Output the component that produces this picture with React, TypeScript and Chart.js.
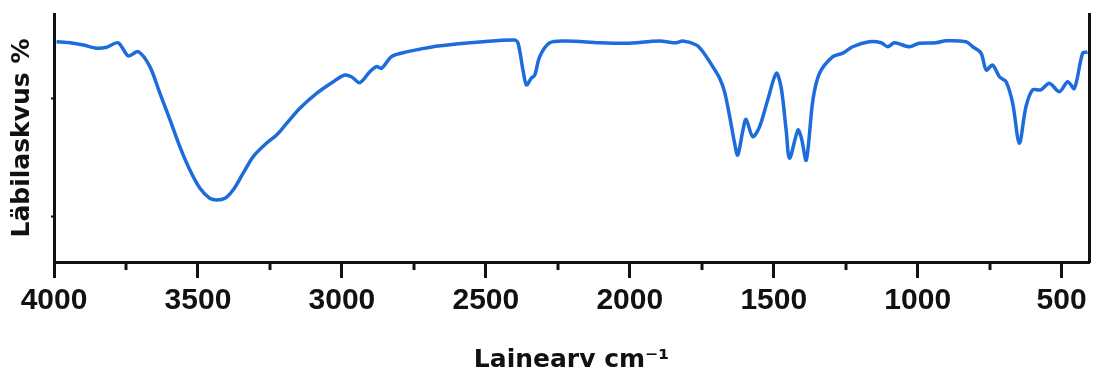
import { useEffect, useRef } from 'react';
import { Chart, registerables } from 'chart.js';

Chart.register(...registerables);

// Wavenumber (cm^-1) and transmittance (%)
const WAVENUMBER = [
  3991, 3944, 3898, 3852, 3817, 3777, 3742, 3707, 3667, 3632, 3597, 3563, 3528, 3493, 3459, 3435,
  3406, 3378, 3343, 3308, 3262, 3227, 3192, 3146, 3088, 3030, 2990, 2967, 2938, 2903, 2880, 2862,
  2828, 2788, 2730, 2666, 2510, 2400, 2388, 2371, 2359, 2342, 2330, 2313, 2278, 2220, 2105, 2012,
  1897, 1839, 1816, 1769, 1746, 1712, 1688, 1671, 1653, 1636, 1625, 1607, 1596, 1573, 1549, 1521,
  1491, 1474, 1457, 1445, 1416, 1404, 1387, 1364, 1341, 1295, 1260, 1226, 1168, 1127, 1104, 1081,
  1029, 994, 936, 901, 832, 809, 780, 762, 740, 716, 693, 670, 647, 624, 601, 572, 543, 508, 479,
  456, 427, 410,
];
const TRANSMITTANCE = [
  88.8, 88.4, 87.5, 86.2, 86.6, 88.4, 83.1, 84.8, 78.8, 68.0, 57.3, 46.5, 37.1, 29.7, 25.7, 25.0,
  25.7, 29.0, 35.8, 42.5, 47.9, 51.2, 55.9, 62.0, 68.0, 72.7, 75.4, 74.7, 72.3, 76.7, 78.8, 78.1,
  82.8, 84.4, 85.8, 87.1, 88.8, 89.5, 88.2, 77.4, 71.4, 74.1, 75.4, 82.8, 88.4, 89.1, 88.4, 88.2,
  89.1, 88.4, 89.1, 87.5, 84.8, 78.8, 74.1, 68.7, 58.6, 47.9, 43.1, 53.2, 57.5, 50.5, 54.6, 65.3,
  76.1, 70.2, 53.2, 41.8, 53.2, 50.0, 41.1, 65.3, 76.1, 82.8, 84.2, 86.8, 88.8, 88.4, 86.8, 88.4,
  86.8, 88.2, 88.4, 89.2, 88.8, 86.8, 84.2, 77.4, 79.4, 74.7, 72.7, 64.0, 47.9, 62.6, 69.4, 69.4,
  72.1, 68.7, 72.7, 70.0, 84.2, 84.6,
];

const X_MAJOR_TICKS = [4000, 3500, 3000, 2500, 2000, 1500, 1000, 500];
const X_MINOR_TICKS = [3750, 3250, 2750, 2250, 1750, 1250, 750];
const Y_TICKS = [18.5, 66];
const X_TITLE = 'Lainearv cm⁻¹';
const Y_TITLE = 'Läbilaskvus %';

const AXIS_COLOR = '#111111';
const LINE_COLOR = '#1c6cdc';

const minorTicksPlugin = {
  id: 'minorTicks',
  afterDraw(chart: any) {
    const xs = chart.scales.x;
    const ctx = chart.ctx;
    const bottom = chart.chartArea.bottom;
    ctx.save();
    ctx.strokeStyle = AXIS_COLOR;
    ctx.lineWidth = 3;
    X_MINOR_TICKS.forEach((v) => {
      const px = Math.round(xs.getPixelForValue(v));
      ctx.beginPath();
      ctx.moveTo(px, bottom);
      ctx.lineTo(px, bottom + 8);
      ctx.stroke();
    });
    ctx.restore();
  },
};

export default function App() {
  const canvasRef = useRef<HTMLCanvasElement | null>(null);

  useEffect(() => {
    if (!canvasRef.current) return;
    const chart = new Chart(canvasRef.current, {
      type: 'line',
      data: {
        datasets: [
          {
            data: WAVENUMBER.map((x, i) => ({ x, y: TRANSMITTANCE[i] })),
            borderColor: LINE_COLOR,
            borderWidth: 3.5,
            pointRadius: 0,
            tension: 0.3,
            fill: false,
          },
        ],
      },
      options: {
        responsive: false,
        animation: false,
        events: [],
        layout: { padding: { top: 14, left: 0, right: 0, bottom: 0 } },
        plugins: { legend: { display: false }, tooltip: { enabled: false } },
        scales: {
          x: {
            type: 'linear',
            position: 'bottom',
            reverse: true,
            min: 405,
            max: 4000,
            afterBuildTicks: (s: any) => {
              s.ticks = X_MAJOR_TICKS.map((v) => ({ value: v }));
            },
            afterFit: (s: any) => {
              s.height = 105;
            },
            grid: {
              drawOnChartArea: false,
              drawTicks: true,
              tickLength: 16,
              tickWidth: 3,
              tickColor: AXIS_COLOR,
            },
            border: { display: true, color: AXIS_COLOR, width: 3 },
            ticks: {
              autoSkip: false,
              maxRotation: 0,
              padding: 5,
              color: AXIS_COLOR,
              font: { family: 'Liberation Sans', size: 30, weight: 'bold', lineHeight: 1.2 },
              callback: (v: any) => String(v),
            },
            title: {
              display: true,
              text: X_TITLE,
              color: AXIS_COLOR,
              padding: { top: 0, bottom: 0 },
              font: { family: 'DejaVu Sans', size: 25, weight: 'bold', lineHeight: 0.5 },
            },
          },
          y: {
            type: 'linear',
            position: 'left',
            min: 0,
            max: 100,
            afterBuildTicks: (s: any) => {
              s.ticks = Y_TICKS.map((v) => ({ value: v }));
            },
            afterFit: (s: any) => {
              s.width = 54;
            },
            grid: {
              drawOnChartArea: false,
              drawTicks: true,
              tickLength: 3,
              tickWidth: 2,
              tickColor: AXIS_COLOR,
            },
            border: { display: true, color: AXIS_COLOR, width: 3 },
            ticks: { display: false },
            title: {
              display: true,
              text: Y_TITLE,
              color: AXIS_COLOR,
              padding: { top: 7, bottom: 0 },
              font: { family: 'DejaVu Sans', size: 25, weight: 'bold', lineHeight: 1.2 },
            },
          },
          yR: {
            type: 'linear',
            position: 'right',
            min: 0,
            max: 100,
            afterFit: (s: any) => {
              s.width = 4;
            },
            grid: { display: false, drawOnChartArea: false, drawTicks: false },
            border: { display: true, color: AXIS_COLOR, width: 3 },
            ticks: { display: false },
          },
        },
      },
      plugins: [minorTicksPlugin],
    } as any);
    return () => chart.destroy();
  }, []);

  return (
    <div style={{ position: 'fixed', left: 0, top: 0, width: 1093, height: 367, background: '#ffffff' }}>
      <canvas ref={canvasRef} width={1093} height={367} style={{ display: 'block' }} />
    </div>
  );
}
